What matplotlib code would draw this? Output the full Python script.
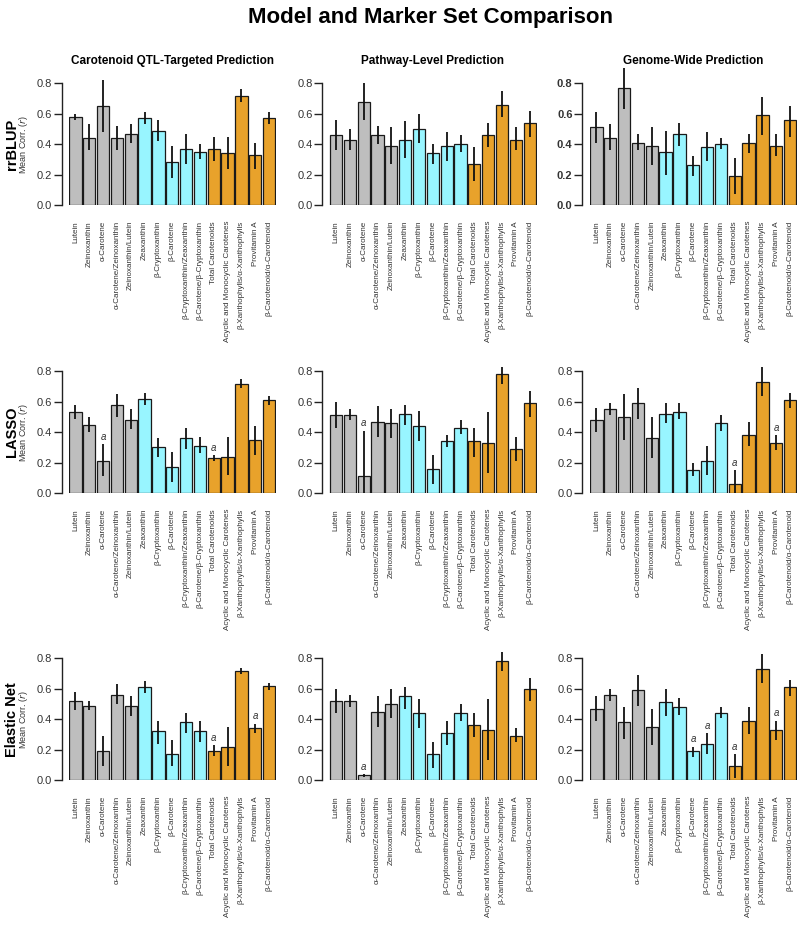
import matplotlib
matplotlib.use("Agg")
import matplotlib.pyplot as plt
import matplotlib.transforms as mtransforms

plt.rcParams['font.family'] = ['Liberation Sans', 'DejaVu Sans']

# trait names, grouped 5 / 5 / 5 by colour
traits = ['Lutein', 'Zeinoxanthin', 'α-Carotene', 'α-Carotene/Zeinoxanthin',
          'Zeinoxanthin/Lutein', 'Zeaxanthin', 'β-Cryptoxanthin', 'β-Carotene',
          'β-Cryptoxanthin/Zeaxanthin', 'β-Carotene/β-Cryptoxanthin',
          'Total Carotenoids', 'Acyclic and Monocyclic Carotenes',
          'β-Xanthophylls/α-Xanthophylls', 'Provitamin A', 'β-Carotenoid/α-Carotenoid']
group_colors = ['#BEBEBE'] * 5 + ['#98F5FF'] * 5 + ['#E8A22B'] * 5

models = ['rrBLUP', 'LASSO', 'Elastic Net']
marker_sets = ['Carotenoid QTL-Targeted Prediction', 'Pathway-Level Prediction',
               'Genome-Wide Prediction']

# rrBLUP
rrblup_qtl_mean = [.58, .44, .65, .44, .47, .57, .49, .28, .37, .35, .37, .34, .72, .33, .57]
rrblup_qtl_lo = [.56, .36, .48, .36, .41, .53, .42, .18, .27, .30, .29, .24, .68, .24, .53]
rrblup_qtl_hi = [.60, .53, .82, .52, .53, .61, .56, .39, .47, .40, .45, .45, .76, .41, .61]
rrblup_qtl_a = []

rrblup_path_mean = [.46, .43, .68, .46, .39, .43, .50, .34, .39, .40, .27, .46, .66, .43, .54]
rrblup_path_lo = [.36, .36, .56, .40, .27, .31, .41, .27, .29, .35, .16, .38, .58, .36, .45]
rrblup_path_hi = [.56, .50, .80, .52, .51, .55, .60, .40, .48, .46, .38, .54, .75, .51, .62]
rrblup_path_a = []

rrblup_gw_mean = [.51, .44, .77, .41, .39, .35, .47, .26, .38, .40, .19, .41, .59, .39, .56]
rrblup_gw_lo = [.41, .36, .63, .36, .26, .20, .39, .19, .29, .37, .07, .34, .46, .32, .45]
rrblup_gw_hi = [.61, .53, .90, .47, .51, .49, .54, .32, .48, .44, .31, .47, .71, .47, .65]
rrblup_gw_a = []

# LASSO
lasso_qtl_mean = [.53, .45, .21, .58, .48, .62, .30, .17, .36, .31, .23, .24, .72, .35, .61]
lasso_qtl_lo = [.49, .40, .11, .50, .42, .58, .24, .07, .29, .26, .21, .12, .69, .25, .58]
lasso_qtl_hi = [.58, .50, .32, .65, .55, .66, .36, .27, .43, .37, .25, .37, .75, .44, .64]
lasso_qtl_a = [2, 10]

lasso_path_mean = [.51, .51, .11, .47, .46, .52, .44, .16, .34, .43, .34, .33, .78, .29, .59]
lasso_path_lo = [.43, .48, .00, .37, .36, .45, .34, .06, .30, .39, .24, .13, .72, .21, .50]
lasso_path_hi = [.60, .55, .41, .57, .55, .58, .54, .25, .38, .48, .43, .53, .83, .37, .67]
lasso_path_a = [2]

lasso_gw_mean = [.48, .55, .50, .59, .36, .52, .53, .15, .21, .46, .06, .38, .73, .33, .61]
lasso_gw_lo = [.40, .51, .35, .49, .23, .46, .49, .11, .12, .41, .00, .31, .64, .28, .56]
lasso_gw_hi = [.56, .59, .65, .69, .50, .59, .59, .20, .31, .51, .15, .47, .83, .38, .66]
lasso_gw_a = [10, 13]

# Elastic Net
enet_qtl_mean = [.52, .49, .19, .56, .49, .61, .32, .17, .38, .32, .19, .22, .72, .34, .62]
enet_qtl_lo = [.46, .46, .09, .50, .42, .57, .24, .09, .31, .25, .16, .09, .70, .31, .59]
enet_qtl_hi = [.58, .52, .29, .63, .55, .65, .39, .26, .44, .39, .23, .35, .74, .37, .64]
enet_qtl_a = [10, 13]

enet_path_mean = [.52, .52, .03, .45, .50, .55, .44, .17, .31, .44, .36, .33, .78, .29, .60]
enet_path_lo = [.44, .48, .02, .35, .41, .47, .34, .08, .23, .39, .28, .13, .72, .25, .52]
enet_path_hi = [.60, .56, .04, .55, .60, .61, .53, .25, .39, .50, .44, .53, .84, .34, .67]
enet_path_a = [2]

enet_gw_mean = [.47, .56, .38, .59, .35, .51, .48, .19, .24, .44, .09, .39, .73, .33, .61]
enet_gw_lo = [.39, .52, .27, .49, .23, .42, .43, .15, .17, .41, .01, .30, .64, .26, .55]
enet_gw_hi = [.55, .60, .48, .69, .47, .60, .54, .22, .31, .48, .17, .48, .83, .39, .66]
enet_gw_a = [7, 8, 10, 13]

panels = [
    [(rrblup_qtl_mean, rrblup_qtl_lo, rrblup_qtl_hi, rrblup_qtl_a),
     (rrblup_path_mean, rrblup_path_lo, rrblup_path_hi, rrblup_path_a),
     (rrblup_gw_mean, rrblup_gw_lo, rrblup_gw_hi, rrblup_gw_a)],
    [(lasso_qtl_mean, lasso_qtl_lo, lasso_qtl_hi, lasso_qtl_a),
     (lasso_path_mean, lasso_path_lo, lasso_path_hi, lasso_path_a),
     (lasso_gw_mean, lasso_gw_lo, lasso_gw_hi, lasso_gw_a)],
    [(enet_qtl_mean, enet_qtl_lo, enet_qtl_hi, enet_qtl_a),
     (enet_path_mean, enet_path_lo, enet_path_hi, enet_path_a),
     (enet_gw_mean, enet_gw_lo, enet_gw_hi, enet_gw_a)],
]

W, H = 797, 939
fig = plt.figure(figsize=(W / 100, H / 100), dpi=100)

# layout in pixels
col_left = [68.5, 329.1, 589.5]
col_width = 207.5
row_zero = [205, 493, 780]      # pixel row of y = 0
px_per_unit = 152.0
ymax = 0.9
spine_gap = [6.5, 6.8, 7.2]

fig.text(0.54, 1 - 17 / H, 'Model and Marker Set Comparison', ha='center', va='center',
         fontsize=16, fontweight='bold')

for r, model in enumerate(models):
    for c, mset in enumerate(marker_sets):
        mean, lo, hi, flags = panels[r][c]
        bottom = row_zero[r]
        height = ymax * px_per_unit
        ax = fig.add_axes([col_left[c] / W, 1 - bottom / H, col_width / W, height / H])
        x = list(range(len(traits)))
        ax.bar(x, mean, width=0.88, color=group_colors, edgecolor='#1a1a1a', linewidth=0.9,
               zorder=2)
        yerr = [[m - l for m, l in zip(mean, lo)], [h - m for m, h in zip(mean, hi)]]
        ax.errorbar(x, mean, yerr=yerr, fmt='none', ecolor='#111111', elinewidth=1.3,
                    capsize=0, zorder=3, clip_on=False)
        for i in flags:
            ax.text(i, hi[i] + 0.015, 'a', ha='center', va='bottom', fontsize=7,
                    style='italic', color='#333333')
        ax.set_xlim(-0.5, len(traits) - 0.5)
        ax.set_ylim(0, ymax)
        for s in ['top', 'right', 'bottom']:
            ax.spines[s].set_visible(False)
        ax.spines['left'].set_bounds(0, 0.8)
        ax.spines['left'].set_position(('outward', spine_gap[c] * 0.72))
        ax.spines['left'].set_linewidth(1.0)
        ax.spines['left'].set_color('#222222')
        ax.set_yticks([0, 0.2, 0.4, 0.6, 0.8])
        ax.set_yticklabels(['0.0', '0.2', '0.4', '0.6', '0.8'],
                           fontweight='bold' if (r == 0 and c == 2) else 'normal')
        ax.tick_params(axis='y', length=5.5, width=1.0, pad=1.5, labelsize=8,
                       colors='#222222', labelcolor='#333333')
        ax.set_xticks(x)
        ax.set_xticklabels(traits, rotation=90, ha='center', va='top', fontsize=5.8,
                           color='#333333')
        ax.tick_params(axis='x', length=0, pad=11.5)
        ax.patch.set_visible(False)

        if r == 0:
            ax.text(0.5, 1 - 61 / H, mset, transform=mtransforms.blended_transform_factory(
                ax.transAxes, fig.transFigure), ha='center', va='center', fontsize=8.5,
                fontweight='bold')
        if c == 0:
            tr = mtransforms.blended_transform_factory(fig.transFigure, ax.transData)
            ax.text(12 / W, 0.4, model, transform=tr, rotation=90, ha='center',
                    va='center', fontsize=10.5, fontweight='bold')
            ax.text(24 / W, 0.4, 'Mean Corr. ($\\it{r}$)', transform=tr, rotation=90,
                    ha='center', va='center', fontsize=6.5, color='#333333')

fig.savefig('out.png', dpi=100)
